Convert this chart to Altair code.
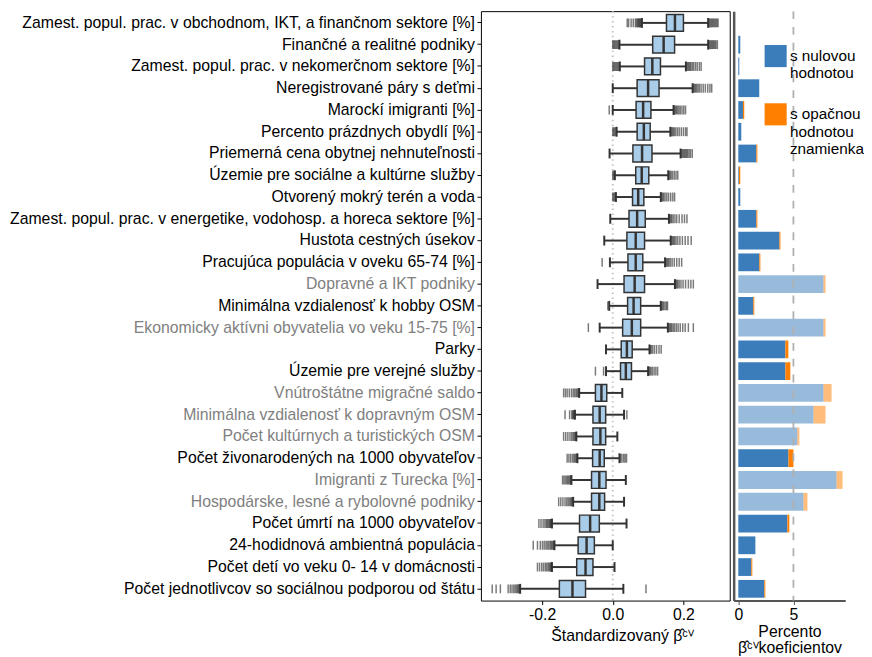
import altair as alt
import pandas as pd

categories = [
    "Zamest. popul. prac. v obchodnom, IKT, a finančnom sektore [%]",
    "Finančné a realitné podniky",
    "Zamest. popul. prac. v nekomerčnom sektore [%]",
    "Neregistrované páry s deťmi",
    "Marockí imigranti [%]",
    "Percento prázdnych obydlí [%]",
    "Priemerná cena obytnej nehnuteľnosti",
    "Územie pre sociálne a kultúrne služby",
    "Otvorený mokrý terén a voda",
    "Zamest. popul. prac. v energetike, vodohosp. a horeca sektore [%]",
    "Hustota cestných úsekov",
    "Pracujúca populácia v oveku 65-74 [%]",
    "Dopravné a IKT podniky",
    "Minimálna vzdialenosť k hobby OSM",
    "Ekonomicky aktívni obyvatelia vo veku 15-75 [%]",
    "Parky",
    "Územie pre verejné služby",
    "Vnútroštátne migračné saldo",
    "Minimálna vzdialenosť k dopravným OSM",
    "Počet kultúrnych a turistických OSM",
    "Počet živonarodených na 1000 obyvateľov",
    "Imigranti z Turecka [%]",
    "Hospodárske, lesné a rybolovné podniky",
    "Počet úmrtí na 1000 obyvateľov",
    "24-hodidnová ambientná populácia",
    "Počet detí vo veku 0- 14 v domácnosti",
    "Počet jednotlivcov so sociálnou podporou od štátu",
]

gray_rows = [
    "Dopravné a IKT podniky",
    "Ekonomicky aktívni obyvatelia vo veku 15-75 [%]",
    "Vnútroštátne migračné saldo",
    "Minimálna vzdialenosť k dopravným OSM",
    "Počet kultúrnych a turistických OSM",
    "Imigranti z Turecka [%]",
    "Hospodárske, lesné a rybolovné podniky",
]

whisker_lo = [0.0825, 0.019, 0.020, 0.0, 0.0, 0.011, -0.009, 0.006, 0.009, -0.007, -0.024, -0.008, -0.043, -0.010,
              -0.037, -0.019, -0.019, -0.095, -0.107, -0.103, -0.100, -0.117, -0.112, -0.172, -0.165, -0.172, -0.262]
q1 = [0.152, 0.113, 0.090, 0.069, 0.066, 0.069, 0.057, 0.065, 0.056, 0.046, 0.040, 0.043, 0.032, 0.042,
      0.028, 0.024, 0.022, -0.049, -0.056, -0.056, -0.057, -0.060, -0.060, -0.094, -0.098, -0.102, -0.151]
median = [0.176, 0.144, 0.112, 0.100, 0.086, 0.088, 0.083, 0.082, 0.072, 0.069, 0.065, 0.065, 0.062, 0.059,
          0.054, 0.040, 0.037, -0.032, -0.037, -0.035, -0.037, -0.038, -0.038, -0.064, -0.074, -0.077, -0.114]
q3 = [0.200, 0.175, 0.135, 0.131, 0.108, 0.106, 0.111, 0.102, 0.088, 0.092, 0.090, 0.085, 0.090, 0.079,
      0.079, 0.055, 0.053, -0.017, -0.020, -0.020, -0.024, -0.019, -0.023, -0.038, -0.052, -0.056, -0.077]
whisker_hi = [0.270, 0.270, 0.207, 0.226, 0.172, 0.163, 0.192, 0.157, 0.136, 0.159, 0.164, 0.148, 0.176, 0.136,
              0.156, 0.104, 0.100, 0.027, 0.032, 0.013, 0.019, 0.037, 0.032, 0.039, 0.0, 0.005, 0.030]

outliers_lo = [
    [0.041, 0.045, 0.052, 0.058, 0.064, 0.067, 0.070, 0.072, 0.074, 0.076, 0.078, 0.080, 0.082],
    [0.000, 0.003, 0.006, 0.009, 0.012, 0.015, 0.018],
    [0.000, 0.003, 0.006, 0.009, 0.012, 0.015, 0.018],
    [],
    [-0.010],
    [0.000, 0.003, 0.006, 0.009],
    [],
    [0.000, 0.003],
    [0.000, 0.003, 0.006],
    [],
    [],
    [-0.030],
    [],
    [-0.014],
    [-0.069],
    [],
    [-0.049, -0.026],
    [-0.139, -0.134, -0.129, -0.123, -0.117, -0.112, -0.108, -0.104, -0.101, -0.098, -0.096],
    [-0.135, -0.122, -0.116, -0.113, -0.111, -0.109, -0.108],
    [-0.139, -0.133, -0.127, -0.121, -0.116, -0.112, -0.109, -0.106, -0.104],
    [-0.129, -0.124, -0.119, -0.114, -0.110, -0.107, -0.104, -0.102],
    [-0.142, -0.138, -0.134, -0.130, -0.127, -0.124, -0.121, -0.119],
    [-0.153, -0.147, -0.141, -0.135, -0.130, -0.126, -0.122, -0.119, -0.116, -0.114],
    [-0.209, -0.203, -0.197, -0.192, -0.188, -0.185, -0.182, -0.179, -0.177, -0.175, -0.173],
    [-0.225, -0.213, -0.205, -0.199, -0.194, -0.189, -0.185, -0.181, -0.177, -0.174, -0.171, -0.168, -0.166],
    [-0.213, -0.207, -0.201, -0.196, -0.191, -0.187, -0.183, -0.180, -0.177, -0.175, -0.173],
    [-0.341, -0.330, -0.318, -0.296, -0.290, -0.285, -0.280, -0.276, -0.272, -0.269, -0.266, -0.264],
]
outliers_hi = [
    [0.271, 0.274, 0.277, 0.280, 0.283, 0.286, 0.289, 0.292, 0.295, 0.298],
    [0.271, 0.274, 0.277, 0.280, 0.283, 0.286, 0.289, 0.292, 0.296],
    [0.209, 0.212, 0.215, 0.218, 0.221, 0.225, 0.229, 0.234, 0.239, 0.245, 0.250],
    [0.228, 0.231, 0.234, 0.237, 0.241, 0.245, 0.250, 0.256, 0.262, 0.269, 0.275, 0.280],
    [0.174, 0.177, 0.180, 0.183, 0.187, 0.191, 0.196, 0.201, 0.206],
    [0.165, 0.168, 0.171, 0.174, 0.178, 0.183, 0.188, 0.194, 0.200, 0.206, 0.210],
    [0.194, 0.197, 0.200, 0.203, 0.206, 0.209, 0.212, 0.216, 0.220, 0.225],
    [0.159, 0.162, 0.165, 0.169, 0.174, 0.179, 0.184],
    [0.138, 0.141, 0.144, 0.148, 0.153, 0.158, 0.164, 0.170, 0.175],
    [0.161, 0.164, 0.167, 0.171, 0.176, 0.181, 0.188, 0.196, 0.203, 0.210],
    [0.166, 0.169, 0.172, 0.175, 0.179, 0.184, 0.190, 0.197, 0.205, 0.213, 0.222],
    [0.150, 0.153, 0.156, 0.159, 0.163, 0.168, 0.174, 0.181, 0.188, 0.195],
    [0.178, 0.181, 0.184, 0.188, 0.193, 0.199, 0.206, 0.214, 0.221, 0.228],
    [0.138, 0.141, 0.144, 0.148, 0.152, 0.155],
    [0.158, 0.161, 0.164, 0.167, 0.171, 0.175, 0.180, 0.185, 0.191, 0.198, 0.205, 0.214, 0.228],
    [0.106, 0.109, 0.113, 0.118, 0.124, 0.131, 0.137],
    [0.102, 0.105, 0.108, 0.112, 0.117, 0.122, 0.127],
    [],
    [0.040],
    [],
    [0.022, 0.026, 0.031, 0.035, 0.039],
    [],
    [],
    [],
    [],
    [],
    [0.094],
]

pct_zero = [0, 0.18, 0.09, 1.9, 0.42, 0.27, 1.64, 0.06, 0.18, 1.64, 3.73, 1.91, 7.73, 1.36, 7.73, 4.27, 4.27,
            7.73, 6.82, 5.36, 4.55, 8.91, 5.91, 4.45, 1.55, 1.18, 2.36]
pct_opposite = [0, 0, 0, 0, 0.12, 0, 0.09, 0.12, 0, 0.09, 0.09, 0.09, 0.18, 0.09, 0.18, 0.27, 0.45, 0.73, 1.09,
                0.18, 0.45, 0.55, 0.36, 0.18, 0, 0.09, 0.09]

legend_labels = ["s nulovou\nhodnotou", "s opačnou\nhodnotou\nznamienka"]
legend_colors = ["#3a7dba", "#ff7f00"]

FONT = "Liberation Sans"
FS = 16
DARK = "#333333"

box_df = pd.DataFrame({"cat": categories, "wlo": whisker_lo, "q1": q1, "med": median,
                       "q3": q3, "whi": whisker_hi})
out_rows = []
for c, lo, hi in zip(categories, outliers_lo, outliers_hi):
    for v in lo + hi:
        out_rows.append({"cat": c, "v": v})
out_df = pd.DataFrame(out_rows)
cap_rows = []
for c, a, b in zip(categories, whisker_lo, whisker_hi):
    cap_rows.append({"cat": c, "v": a})
    cap_rows.append({"cat": c, "v": b})
cap_df = pd.DataFrame(cap_rows)

bar_rows = []
for c, z, o in zip(categories, pct_zero, pct_opposite):
    g = c in gray_rows
    bar_rows.append({"cat": c, "typ": legend_labels[0], "val": z, "ord": 0, "light": g})
    bar_rows.append({"cat": c, "typ": legend_labels[1], "val": o, "ord": 1, "light": g})
bar_df = pd.DataFrame(bar_rows)

gray_expr = "indexof([" + ",".join("'" + g + "'" for g in gray_rows) + "], datum.value) >= 0 ? '#808080' : 'black'"

yscale = alt.Scale(paddingInner=0, paddingOuter=0.04)
y_axis = alt.Axis(labelFontSize=FS, labelFont=FONT, labelLimit=700, labelPadding=2.5,
                  tickSize=4, tickColor="black", tickWidth=1, domain=False, grid=False,
                  labelColor=alt.ExprRef(expr=gray_expr))
y_left = alt.Y("cat:N", sort=categories, scale=yscale, title=None, axis=y_axis)

xscale = alt.Scale(domain=[-0.373, 0.331], nice=False, zero=False)
x_axis = alt.Axis(values=[-0.2, 0.0, 0.2], format=".1f", labelFontSize=FS, labelFont=FONT,
                  labelColor="black", tickSize=4, tickColor="black", domain=False, grid=False,
                  labelPadding=2, title="Štandardizovaný β̂ᶜⱽ", titleFontSize=FS, titleFont=FONT,
                  titleFontWeight="normal", titleColor="black", titleX=143, titlePadding=5,
                  labelExpr="replace(datum.label, '−', '-')")

zero_df = pd.DataFrame({"x": [0.0]})
zero_line = alt.Chart(zero_df).mark_rule(color="#c4c4c4", strokeDash=[1.5, 3.5], strokeWidth=2).encode(
    x=alt.X("x:Q", scale=xscale, axis=x_axis))

base = alt.Chart(box_df)
wh_lo = base.mark_rule(color=DARK, strokeWidth=2).encode(
    x=alt.X("wlo:Q", scale=xscale, axis=x_axis), x2="q1:Q", y=y_left)
wh_hi = base.mark_rule(color=DARK, strokeWidth=2).encode(
    x=alt.X("q3:Q", scale=xscale, axis=x_axis), x2="whi:Q", y=y_left)
caps = alt.Chart(cap_df).mark_tick(color=DARK, thickness=2, size=10, opacity=1).encode(
    x=alt.X("v:Q", scale=xscale, axis=x_axis), y=y_left)
outs = alt.Chart(out_df).mark_tick(color="#222222", thickness=1.5, size=9, opacity=0.6).encode(
    x=alt.X("v:Q", scale=xscale, axis=x_axis), y=y_left)
boxes = base.mark_bar(fill="#a9cce9", stroke=DARK, strokeWidth=1.5, size=17).encode(
    x=alt.X("q1:Q", scale=xscale, axis=x_axis), x2="q3:Q", y=y_left)
meds = base.mark_tick(color=DARK, thickness=2.5, size=17, opacity=1).encode(
    x=alt.X("med:Q", scale=xscale, axis=x_axis), y=y_left)

left = alt.layer(zero_line, wh_lo, wh_hi, outs, caps, boxes, meds).properties(
    width=252, height=597, view=alt.ViewBackground(stroke="black", strokeWidth=1))

# right panel
xs2 = alt.Scale(domain=[-0.42, 9.7], nice=False, zero=False)
x2_axis = alt.Axis(values=[0, 5], labelFontSize=FS, labelFont=FONT, labelColor="black",
                   tickSize=4, tickColor="#555555", domainColor="#555555", domainWidth=2,
                   grid=False, labelPadding=2, title=["Percento", "β̂ᶜⱽkoeficientov"],
                   titleFontSize=FS, titleFont=FONT, titleFontWeight="normal",
                   titleColor="black", titlePadding=1, titleLineHeight=17)
y2 = alt.Y("cat:N", sort=categories, scale=yscale, title=None,
           axis=alt.Axis(labels=False, ticks=False, domainColor="#555555", domainWidth=2.5, grid=False))
bars = alt.Chart(bar_df).mark_bar(size=18).encode(
    x=alt.X("val:Q", stack="zero", scale=xs2, axis=x2_axis),
    y=y2,
    color=alt.Color("typ:N", scale=alt.Scale(domain=legend_labels, range=legend_colors),
                    legend=alt.Legend(title=None, orient="none", legendX=287, legendY=34,
                                      symbolType="square", symbolSize=500, symbolStrokeWidth=0,
                                      symbolOpacity=1, labelFontSize=15.5, labelFont=FONT,
                                      labelColor="black", labelOffset=3, rowPadding=21,
                                      labelLimit=200,
                                      labelExpr="split(datum.label, '\\n')")),
    order=alt.Order("ord:Q"),
    opacity=alt.condition("datum.light", alt.value(0.52), alt.value(1.0)),
)
five_df = pd.DataFrame({"x": [5.0]})
five = alt.Chart(five_df).mark_rule(color="#b0b0b0", strokeDash=[8, 8], strokeWidth=1.8).encode(
    x=alt.X("x:Q", scale=xs2, axis=x2_axis))

right = alt.layer(bars, five).properties(width=113, height=597,
                                         view=alt.ViewBackground(stroke=None))

chart = alt.hconcat(left, right, spacing=3).properties(
    padding={"left": 0, "top": -3, "right": 0, "bottom": 0}
).configure(font=FONT).configure_view(strokeWidth=1)

chart.save("out.html", embed_options={"renderer": "svg", "actions": False})
